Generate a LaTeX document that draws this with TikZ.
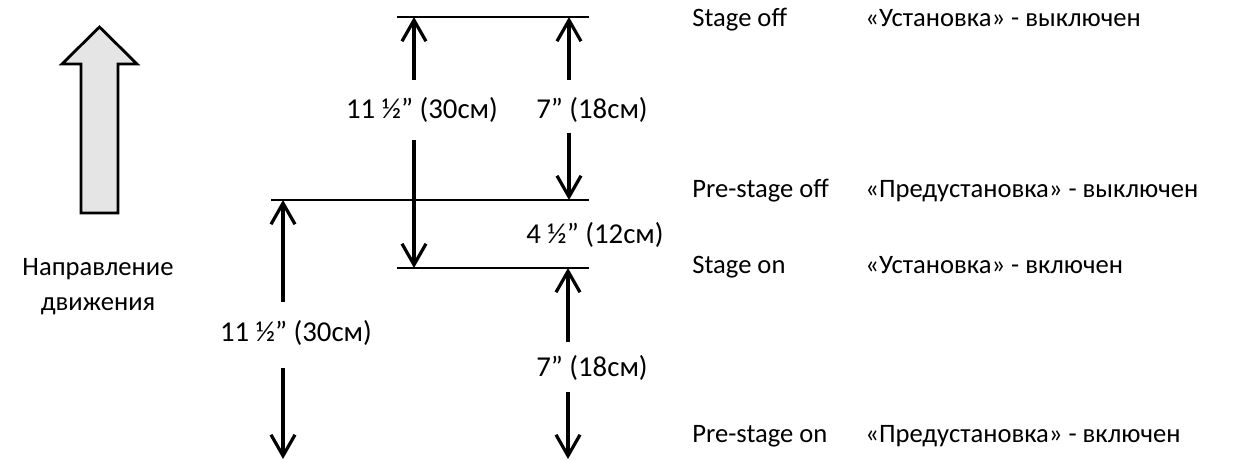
\documentclass[tikz,border=0pt]{standalone}
\usepackage{fontspec}
\setmainfont{Carlito}
\usetikzlibrary{arrows.meta,positioning}

\begin{document}
\begin{tikzpicture}[
  x=0.5pt, y=-0.5pt,
  font=\fontsize{13.3}{17.5}\selectfont,
  level/.style={line width=0.9pt},
  dim/.style={-{Straight Barb[length=10.5pt,width=12pt]}, line width=1.6pt},
  dimlabel/.style={inner sep=0pt, font=\fontsize{14.4}{17.5}\selectfont},
  stagelabel/.style={anchor=base west, inner sep=0pt},
  dirarrow/.style={draw=black, line width=1.4pt, fill=gray!20, line join=miter}
]
\useasboundingbox (0,0) rectangle (1253,460);

% Direction of travel
\draw[dirarrow] (99.5,27) -- (137,64) -- (118,64) -- (118,213) -- (81,213) -- (81,64) -- (62,64) -- cycle;
\node[align=center, inner sep=0pt] (dirtext) at (98,287) {Направление\\движения};

% Beam levels
\coordinate (stoffL) at (397,17);
\coordinate (stoffR) at (589,17);
\coordinate (prestoffL) at (271,200);
\coordinate (prestoffR) at (589,200);
\coordinate (stonL) at (397,268);
\coordinate (stonR) at (589,268);
\draw[level] (stoffL) -- (stoffR);
\draw[level] (prestoffL) -- (prestoffR);
\draw[level] (stonL) -- (stonR);

% Distance labels
\node[dimlabel] (lblA) at (422,110) {11 ½” (30см)};
\node[dimlabel] (lblB) at (592,110) {7” (18см)};
\node[dimlabel] (lblC) at (595,235) {4 ½” (12см)};
\node[dimlabel] (lblD) at (296,333) {11 ½” (30см)};
\node[dimlabel] (lblE) at (592,368) {7” (18см)};

% Arrow ends next to the labels
\coordinate (aAup) at (414,80);
\coordinate (aAdn) at (414,140);
\coordinate (aBup) at (569,80);
\coordinate (aBdn) at (569,133);
\coordinate (aDup) at (283,302);
\coordinate (aDdn) at (283,368);
\coordinate (aDend) at (283,459);
\coordinate (aEup) at (568,342);
\coordinate (aEdn) at (568,392);
\coordinate (aEend) at (568,459);

% Arrows - upper pair
\draw[dim] (aAup) -- (aAup |- stoffL);
\draw[dim] (aAdn) -- (aAdn |- stonL);
\draw[dim] (aBup) -- (aBup |- stoffL);
\draw[dim] (aBdn) -- (aBdn |- prestoffL);

% Arrows - lower pair
\draw[dim] (aDup) -- (aDup |- prestoffL);
\draw[dim] (aDdn) -- (aDend);
\draw[dim] (aEup) -- (aEup |- stonL);
\draw[dim] (aEdn) -- (aEend);

% Stage names
\node[stagelabel] (s1en) at (692,27) {Stage off};
\node[stagelabel] (s1ru) at (865,27) {«Установка» - выключен};
\node[stagelabel] (s2en) at (692,198) {Pre-stage off};
\node[stagelabel] (s2ru) at (865,198) {«Предустановка» - выключен};
\node[stagelabel] (s3en) at (692,273) {Stage on};
\node[stagelabel] (s3ru) at (865,273) {«Установка» - включен};
\node[stagelabel] (s4en) at (692,442) {Pre-stage on};
\node[stagelabel] (s4ru) at (865,442) {«Предустановка» - включен};

\end{tikzpicture}
\end{document}
